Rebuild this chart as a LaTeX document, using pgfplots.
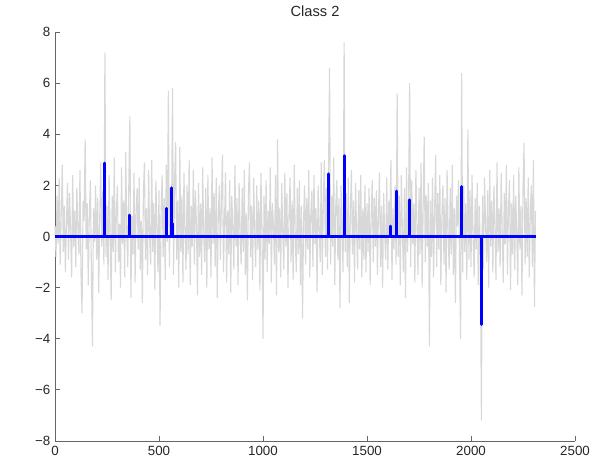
\documentclass[border=0pt]{standalone}
\usepackage{fontspec}
\setmainfont{Liberation Sans}
\usepackage{pgfplots}
\pgfplotsset{compat=1.18}
\definecolor{noisegray}{RGB}{216,216,216}
\definecolor{spikeblue}{RGB}{0,0,255}

% noisy observation, one sample every 5 units (x = 5*index)
\begin{document}
\begin{tikzpicture}[x=1pt,y=1pt]
\useasboundingbox (-41.25,-18.75) rectangle (418.5,330.75);
\begin{axis}[
  at={(0,0)}, anchor=south west,
  scale only axis, width=390pt, height=306.75pt,
  xmin=0, xmax=2500, ymin=-8, ymax=8,
  axis x line*=bottom, axis y line*=left,
  axis line style={-, draw=black!60, line width=0.6pt},
  tick align=inside, major tick length=3.5pt,
  tick style={draw=black!60, line width=0.6pt},
  xtick={0,500,1000,1500,2000,2500},
  xticklabels={0,500,1000,1500,2000,2500},
  ytick={-8,-6,-4,-2,0,2,4,6,8},
  yticklabels={−8,−6,−4,−2,0,2,4,6,8},
  tick label style={font=\fontsize{10}{12}\selectfont, text=black!85},
  title={Class 2},
  title style={font=\fontsize{11}{13}\selectfont, text=black!85, yshift=2pt},
  clip=false,
]
\addplot[noisegray, line width=0.85pt] table[header=false, x expr=\coordindex*5, y index=0] {
0.4
-0.8
1.6
-0.3
2.3
-1.1
0.9
2.8
-0.6
1.2
-1.4
0.5
2.1
-0.9
1.7
0.2
-1.6
2.4
-0.4
1.0
-1.2
1.9
0.3
-0.7
2.6
-1.5
-3.0
1.4
0.6
3.8
-0.5
1.3
-1.9
0.8
2.2
-1.3
-4.3
1.1
-0.2
2.0
-0.9
1.5
-2.2
0.7
2.9
-0.4
1.8
-1.1
7.2
-0.8
1.2
-1.7
2.4
0.1
-2.5
1.6
-0.6
3.1
-1.4
0.9
2.0
-1.0
0.5
-2.0
2.7
-0.3
1.4
-1.6
3.3
0.2
-1.2
2.1
4.7
-2.4
0.8
-0.7
2.5
-1.8
1.0
1.9
-0.5
2.3
-1.3
0.6
-2.6
1.7
2.9
-0.9
1.1
-1.5
2.6
0.0
-1.1
3.0
-0.6
1.3
-2.1
2.2
0.4
-1.4
1.8
-3.5
0.9
2.4
-0.8
1.5
-1.7
2.8
-0.2
5.7
-1.2
1.9
0.3
5.8
-1.5
2.2
3.7
-0.9
1.4
-2.0
3.5
-0.6
1.6
-1.8
2.5
0.2
-1.3
2.0
-0.7
3.0
-1.9
1.2
-0.4
2.6
-1.1
1.8
0.5
-2.3
2.1
-0.8
1.3
-1.5
2.7
0.0
-1.0
1.9
-2.0
2.4
-0.5
1.1
-1.6
3.1
-0.3
1.7
-1.2
2.3
-2.4
0.8
2.0
-0.9
1.4
3.2
-1.4
0.6
2.5
-1.8
1.0
-0.7
2.2
-2.2
1.6
0.3
-1.3
2.8
-0.4
1.5
-1.9
2.1
0.2
-1.1
1.9
-0.6
2.6
-1.5
0.9
-2.5
1.7
2.9
-0.8
1.2
-1.7
2.3
0.1
-1.2
2.0
-0.5
1.4
-2.1
2.5
0.4
-4.0
1.6
-0.9
2.2
-1.4
1.0
-0.3
2.7
-1.8
1.3
0.5
-1.1
2.4
-2.3
3.8
-0.6
1.1
-1.6
2.1
0.2
-1.3
2.5
-0.4
1.7
-2.0
0.8
2.3
-1.0
1.4
-1.7
2.8
0.0
-1.4
1.9
-0.7
2.2
-1.9
1.2
-3.2
0.6
2.0
-1.1
1.5
-0.5
2.6
-1.6
0.9
1.8
-1.2
2.4
-0.3
1.1
-2.2
2.0
0.4
-1.0
2.9
-1.5
1.3
3.0
-0.8
1.9
-1.3
2.5
6.6
-1.1
1.6
-0.4
3.1
-1.9
1.2
2.2
-0.9
1.5
-2.8
2.0
0.3
-1.4
7.6
-0.6
1.7
-1.2
2.3
-2.6
1.0
2.6
-0.7
1.4
-1.8
2.1
0.2
-1.3
1.8
-0.5
2.4
-1.6
1.1
-0.9
2.0
-1.4
1.3
-0.6
1.9
-1.9
0.7
2.2
-1.0
1.5
-0.4
1.8
-1.5
0.9
2.5
-1.2
1.2
-2.0
1.7
0.1
-0.9
2.3
-1.3
1.4
0.4
3.0
-1.7
1.1
-0.5
2.0
-1.1
5.6
-0.8
1.6
-1.9
2.4
0.3
-1.4
1.9
-2.4
2.7
-0.6
1.5
6.0
-1.2
2.2
-0.3
1.3
-1.8
2.6
0.5
-1.5
1.9
-0.7
2.9
-2.0
1.2
3.9
-1.0
1.6
-0.4
2.1
-4.3
1.4
-0.8
2.3
-1.6
1.0
3.2
-1.2
1.7
-0.5
2.4
-1.9
0.8
2.0
-1.1
1.5
-2.2
2.6
0.2
-1.3
1.9
-0.7
2.8
-1.5
1.1
-2.6
1.6
0.4
2.2
-1.0
-4.0
6.4
-1.4
2.0
-0.6
1.3
-1.7
4.2
-0.9
1.8
-1.2
2.4
0.0
-1.6
1.5
-0.5
2.1
-1.9
1.2
-0.8
-7.2
1.6
-1.3
2.3
0.5
-1.0
1.8
-2.0
2.6
-0.4
1.4
-1.4
2.0
0.3
-1.7
2.9
-0.6
1.1
-1.2
2.5
0.2
-1.8
1.7
-0.3
2.8
-1.5
1.0
2.2
-2.1
1.3
-0.7
2.4
-1.3
1.6
0.1
-1.9
2.7
-0.5
1.2
-2.3
1.9
3.65
-1.1
1.5
-0.8
2.3
-1.6
0.9
2.0
-1.2
3.0
-2.75
1.0
};
% sparse estimate: zero baseline
\addplot[spikeblue, line width=2pt] coordinates {(0,0) (2311,0)};
% isolated nonzero coefficients as stems
\addplot[spikeblue, line width=2.2pt, line cap=round, ycomb] coordinates {
(240,2.87) (360,0.84) (538,1.1) (558,1.9) (567,0.5)
(1317,2.45) (1390,3.16) (1615,0.41) (1644,1.78) (1705,1.43)
(1955,1.95) (2050,-3.44)
};
\end{axis}
\end{tikzpicture}
\end{document}
